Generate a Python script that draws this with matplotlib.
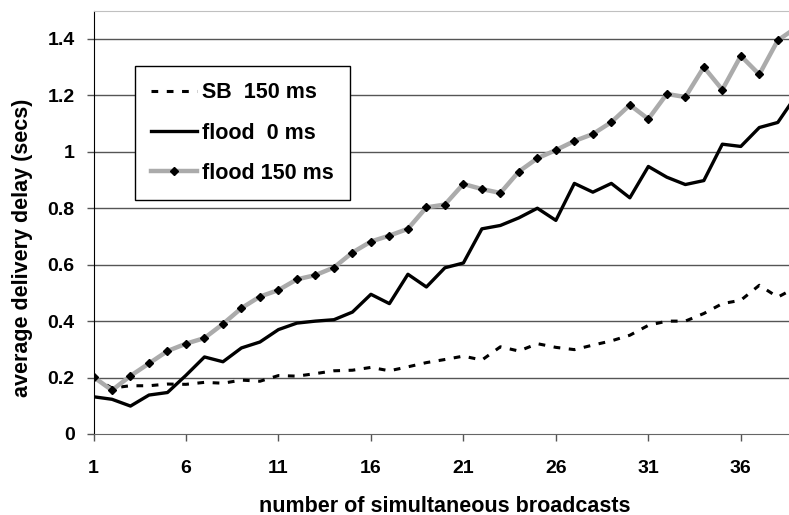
import numpy as np
import matplotlib
matplotlib.use("Agg")
import matplotlib.pyplot as plt

# number of simultaneous broadcasts (category axis)
broadcasts = list(range(1, 40))

sb_150 = [0.20, 0.163, 0.171, 0.171, 0.177, 0.176, 0.183, 0.180, 0.191, 0.187,
          0.207, 0.205, 0.214, 0.224, 0.226, 0.236, 0.224, 0.238, 0.253, 0.264,
          0.276, 0.262, 0.309, 0.294, 0.320, 0.307, 0.299, 0.315, 0.330, 0.350,
          0.385, 0.400, 0.400, 0.427, 0.462, 0.474, 0.527, 0.485, 0.52]

flood_0 = [0.132, 0.123, 0.099, 0.138, 0.147, 0.208, 0.273, 0.256, 0.305, 0.326,
           0.370, 0.393, 0.400, 0.405, 0.432, 0.495, 0.462, 0.566, 0.521, 0.589,
           0.606, 0.727, 0.739, 0.766, 0.800, 0.757, 0.888, 0.857, 0.888, 0.837,
           0.948, 0.910, 0.884, 0.898, 1.027, 1.019, 1.086, 1.104, 1.20]

flood_150 = [0.202, 0.155, 0.206, 0.250, 0.294, 0.320, 0.340, 0.390, 0.446, 0.487,
             0.510, 0.548, 0.563, 0.590, 0.643, 0.682, 0.703, 0.727, 0.803, 0.813,
             0.886, 0.868, 0.854, 0.930, 0.977, 1.006, 1.038, 1.063, 1.105, 1.166,
             1.116, 1.205, 1.194, 1.300, 1.220, 1.340, 1.274, 1.395, 1.44]

x_ticks = [1, 6, 11, 16, 21, 26, 31, 36]
y_ticks = [0, 0.2, 0.4, 0.6, 0.8, 1.0, 1.2, 1.4]
y_tick_labels = ["0", "0.2", "0.4", "0.6", "0.8", "1", "1.2", "1.4"]

plt.rcParams["font.family"] = ["Liberation Sans", "DejaVu Sans"]
plt.rcParams["font.weight"] = "bold"

W, H = 789, 515
fig = plt.figure(figsize=(W / 100, H / 100), dpi=100)
# plot area (pixels); it runs a little past the right edge of the canvas
left, right, top, bottom = 93.5, 796.3, 10.7, 434.0
aw, ah = right - left, bottom - top
ax = fig.add_axes([left / W, 1 - bottom / H, aw / W, ah / H])

ax.set_xlim(1, 39)
ax.set_ylim(0, 1.5)

for y in y_ticks[1:]:
    ax.axhline(y, color="#555555", lw=1.0, zorder=1)

ax.plot(broadcasts, sb_150, color="black", lw=2.2, ls=(0, (2.2, 2.8)),
        label="SB  150 ms", zorder=3)
ax.plot(broadcasts, flood_0, color="black", lw=2.4, label="flood  0 ms", zorder=3)
ax.plot(broadcasts, flood_150, color="#ababab", lw=3.2, marker="D", ms=4.0,
        mfc="black", mec="black", label="flood 150 ms", zorder=4)

ax.spines["left"].set_color("black")
ax.spines["bottom"].set_color("#666666")
ax.spines["top"].set_color("#c0c0c0")
ax.spines["right"].set_visible(False)

ax.set_xticks(x_ticks)
ax.set_yticks(y_ticks)
ax.set_yticklabels(y_tick_labels)
ax.tick_params(axis="y", direction="out", length=5, width=1, color="#555555",
               pad=8.5, labelsize=14)
ax.tick_params(axis="x", direction="out", length=5, width=1, color="#555555",
               pad=14, labelsize=14)

ax.set_xlabel("number of simultaneous broadcasts", fontsize=15.5,
              fontweight="bold", va="center")
ax.xaxis.set_label_coords((445 - left) / aw, -(506 - bottom) / ah)
ax.set_ylabel("average delivery delay (secs)", fontsize=15.5,
              fontweight="bold", va="center")
ax.yaxis.set_label_coords(-(left - 22) / aw, (bottom - 248) / ah)

leg = ax.legend(loc="upper left", bbox_to_anchor=(135 / W, 1 - 66 / H),
                bbox_transform=fig.transFigure, borderaxespad=0,
                fancybox=False, framealpha=1, edgecolor="black",
                fontsize=15.5, handlelength=2.15, handletextpad=0.2,
                labelspacing=0.9, borderpad=0.75)
leg.get_frame().set_linewidth(1.0)

fig.savefig("out.png", dpi=100)
